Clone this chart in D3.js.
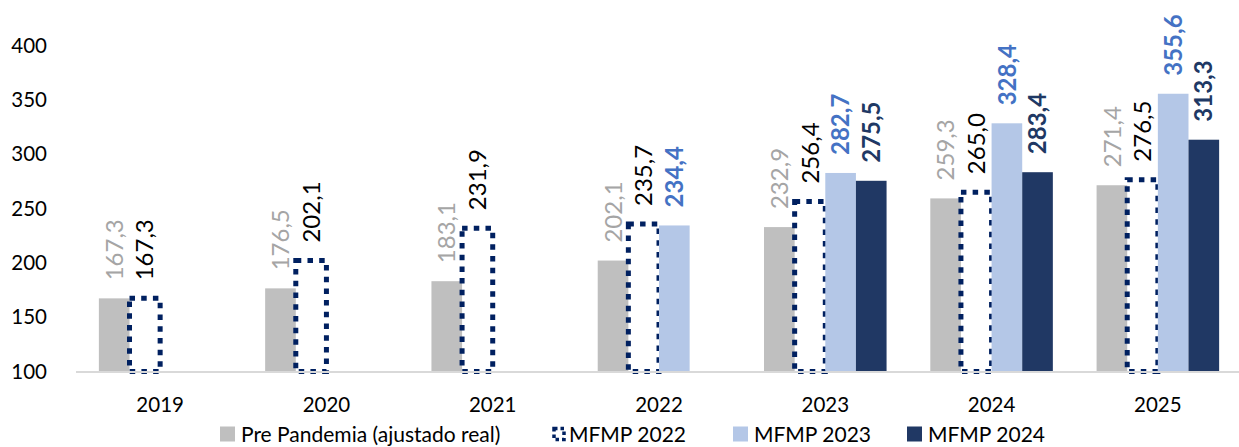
<!DOCTYPE html>
<html>
<head>
<meta charset="utf-8">
<script src="https://cdn.jsdelivr.net/npm/d3@7"></script>
<style>
  html, body { margin: 0; padding: 0; background: #fff; }
  svg { display: block; }
  text { font-family: Lato, "Open Sans", "Liberation Sans", sans-serif; }
</style>
</head>
<body>
<svg id="chart" width="1239" height="447"></svg>
<script>
// Categories and series values
const years = ["2019", "2020", "2021", "2022", "2023", "2024", "2025"];
const prePandemia = [167.3, 176.5, 183.1, 202.1, 232.9, 259.3, 271.4];
const mfmp2022 = [167.3, 202.1, 231.9, 235.7, 256.4, 265.0, 276.5];
const mfmp2023 = [null, null, null, 234.4, 282.7, 328.4, 355.6];
const mfmp2024 = [null, null, null, null, 275.5, 283.4, 313.3];
const yTicks = [100, 150, 200, 250, 300, 350, 400];
const seriesNames = ["Pre Pandemia (ajustado real)", "MFMP 2022", "MFMP 2023", "MFMP 2024"];

// Visual styling per series
const series = [
  { name: seriesNames[0], values: prePandemia, fill: "#BFBFBF", dotted: false, labelColor: "#A5A5A5", labelWeight: 400 },
  { name: seriesNames[1], values: mfmp2022, fill: "#FFFFFF", dotted: true, stroke: "#002060", labelColor: "#000000", labelWeight: 400 },
  { name: seriesNames[2], values: mfmp2023, fill: "#B4C7E7", dotted: false, labelColor: "#4472C4", labelWeight: 700 },
  { name: seriesNames[3], values: mfmp2024, fill: "#203864", dotted: false, labelColor: "#203864", labelWeight: 700 }
];

const svg = d3.select("#chart");
const fmt = d3.formatLocale({ decimal: ",", thousands: ".", grouping: [3], currency: ["", ""] }).format(".1f");

const x = d3.scaleBand()
  .domain(years)
  .range([77, 1241])
  .paddingInner(0.263)
  .paddingOuter(0.1315);

const xs = d3.scaleBand()
  .domain(d3.range(series.length))
  .range([0, x.bandwidth()]);

const y = d3.scaleLinear().domain([100, 400]).range([371.5, 45.5]);

// Y tick labels (no axis line, no gridlines)
const yAxis = d3.axisLeft(y).tickValues(yTicks).tickSize(0).tickPadding(0).tickFormat(d3.format("d"));
const yg = svg.append("g").attr("transform", "translate(47,0)").call(yAxis);
yg.select(".domain").remove();
yg.selectAll("text")
  .attr("font-size", 20.5)
  .attr("fill", "#000")
  .style("font-family", "Lato, 'Open Sans', sans-serif");

// Bars
series.forEach((s, si) => {
  const data = years.map((yr, i) => ({ yr, v: s.values[i] })).filter(d => d.v != null);
  const g = svg.append("g");
  const bars = g.selectAll("rect").data(data).join("rect")
    .attr("x", d => x(d.yr) + xs(si))
    .attr("width", xs.bandwidth())
    .attr("y", d => y(d.v))
    .attr("height", d => y(100) - y(d.v))
    .attr("fill", s.fill);
  if (s.dotted) {
    bars.attr("fill", "none")
      .attr("stroke", s.stroke)
      .attr("stroke-width", 5)
      .attr("stroke-dasharray", "5.5 6.2");
  }
});

// Category axis
const xAxis = d3.axisBottom(x).tickSize(0).tickPadding(0);
const xg = svg.append("g").attr("transform", `translate(0,${y(100)})`).call(xAxis);
xg.select(".domain").remove();
xg.selectAll("text")
  .attr("y", 40)
  .attr("dy", 0)
  .attr("font-size", 20.5)
  .attr("fill", "#000")
  .style("font-family", "Lato, 'Open Sans', sans-serif");

svg.append("line")
  .attr("x1", 76).attr("x2", 1239)
  .attr("y1", y(100) + 0.5).attr("y2", y(100) + 0.5)
  .attr("stroke", "#D9D9D9")
  .attr("stroke-width", 2);

// Value labels, rotated, above each bar
series.forEach((s, si) => {
  const data = years.map((yr, i) => ({ yr, v: s.values[i] })).filter(d => d.v != null);
  svg.append("g").selectAll("text").data(data).join("text")
    .attr("transform", d => `translate(${x(d.yr) + xs(si) + xs.bandwidth() / 2},${y(d.v) - 18}) rotate(-90)`)
    .attr("dy", "0.36em")
    .attr("text-anchor", "start")
    .attr("font-size", 24)
    .attr("font-weight", s.labelWeight)
    .attr("fill", s.labelColor)
    .text(d => fmt(d.v));
});

// Legend
const legendX = [220, 552, 733, 907];
const legendY = 434;
series.forEach((s, si) => {
  const g = svg.append("g").attr("transform", `translate(${legendX[si]},${legendY})`);
  if (s.dotted) {
    g.append("rect")
      .attr("x", 2).attr("y", -5.5)
      .attr("width", 10).attr("height", 11)
      .attr("fill", "none")
      .attr("stroke", s.stroke)
      .attr("stroke-width", 3.5)
      .attr("stroke-dasharray", "3.5 3");
  } else {
    g.append("rect")
      .attr("x", 0).attr("y", -7.5)
      .attr("width", 15).attr("height", 15)
      .attr("fill", s.fill);
  }
  g.append("text")
    .attr("x", s.dotted ? 17 : 21)
    .attr("dy", "0.36em")
    .attr("font-size", 21)
    .attr("fill", "#000")
    .text(s.name);
});
</script>
</body>
</html>
